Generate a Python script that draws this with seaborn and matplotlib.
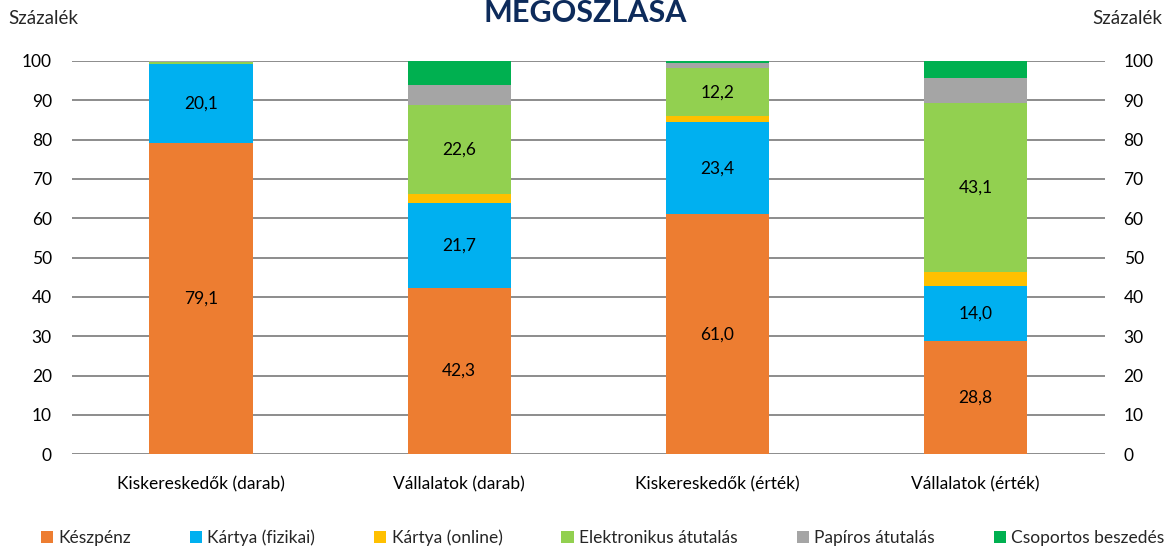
import matplotlib
matplotlib.use("Agg")
import matplotlib.pyplot as plt
import seaborn as sns
import numpy as np
import pandas as pd
from matplotlib.patches import Patch

categories = ["Kiskereskedők (darab)", "Vállalatok (darab)", "Kiskereskedők (érték)", "Vállalatok (érték)"]
series_names = ["Készpénz", "Kártya (fizikai)", "Kártya (online)", "Elektronikus átutalás", "Papíros átutalás", "Csoportos beszedés"]
keszpenz = [79.1, 42.3, 61.0, 28.8]
kartya_fizikai = [20.1, 21.7, 23.4, 14.0]
kartya_online = [0.1, 2.2, 1.5, 3.5]
elektronikus = [0.5, 22.6, 12.2, 43.1]
papiros = [0.1, 5.1, 1.5, 6.2]
csoportos = [0.1, 6.1, 0.4, 4.4]
colors = ["#ED7D31", "#00B0F0", "#FFC000", "#92D050", "#A5A5A5", "#00B050"]
yticks = [0, 10, 20, 30, 40, 50, 60, 70, 80, 90, 100]

sns.set_theme(style="white")
plt.rcParams["font.family"] = ["Lato", "DejaVu Sans"]

series = [keszpenz, kartya_fizikai, kartya_online, elektronikus, papiros, csoportos]
vals = np.array(series)
cum = np.cumsum(vals, axis=0)

fig = plt.figure(figsize=(11.71, 5.49), dpi=100)
ax = fig.add_axes([0.0615, 0.1725, 0.882, 0.7164])

for i in range(len(series) - 1, -1, -1):
    df = pd.DataFrame({"cat": categories, "val": cum[i]})
    sns.barplot(data=df, x="cat", y="val", color=colors[i], width=0.4,
                saturation=1, ax=ax, zorder=3, linewidth=0)

# data labels
for i, s in enumerate(series):
    for j, v in enumerate(s):
        if v >= 10:
            mid = cum[i][j] - v / 2
            ax.text(j, mid, f"{v:.1f}".replace(".", ","), ha="center", va="center",
                    fontsize=12.5, color="black", zorder=5)

ax.set_xlim(-0.5, 3.5)
ax.set_ylim(0, 100)
ax.set_yticks(yticks)
ax.set_yticklabels([str(t) for t in yticks], fontsize=12.5)
ax.set_xlabel("")
ax.set_ylabel("")
ax.tick_params(axis="both", length=0, labelsize=12.5, colors="black")
ax.tick_params(axis="y", pad=14.5)
ax.tick_params(axis="x", pad=16)
ax.yaxis.grid(True, color="#8C8C8C", linewidth=1.4, zorder=0)
ax.set_axisbelow(True)
for sp in ax.spines.values():
    sp.set_visible(False)

ax2 = ax.twinx()
ax2.set_ylim(0, 100)
ax2.set_yticks(yticks)
ax2.set_yticklabels([str(t) for t in yticks], fontsize=12.5)
ax2.tick_params(axis="y", length=0, pad=13.5, labelsize=12.5, colors="black")
for sp in ax2.spines.values():
    sp.set_visible(False)
ax2.grid(False)

fig.text(0.007, 0.967, "Százalék", ha="left", va="center", fontsize=13.5)
fig.text(0.993, 0.967, "Százalék", ha="right", va="center", fontsize=13.5)
fig.text(0.5, 0.96, "MEGOSZLÁSA", ha="center", va="baseline", fontsize=22,
         fontweight="bold", color="#0D2B5B")

handles = [Patch(facecolor=c, edgecolor="none") for c in colors]
fig.legend(handles, series_names, loc="center", bbox_to_anchor=(0.5145, 0.02),
           ncol=6, frameon=False, fontsize=12.5, handlelength=0.7, handleheight=0.7,
           handletextpad=0.3, columnspacing=3.4, borderaxespad=0)

fig.savefig("out.png", dpi=100)
